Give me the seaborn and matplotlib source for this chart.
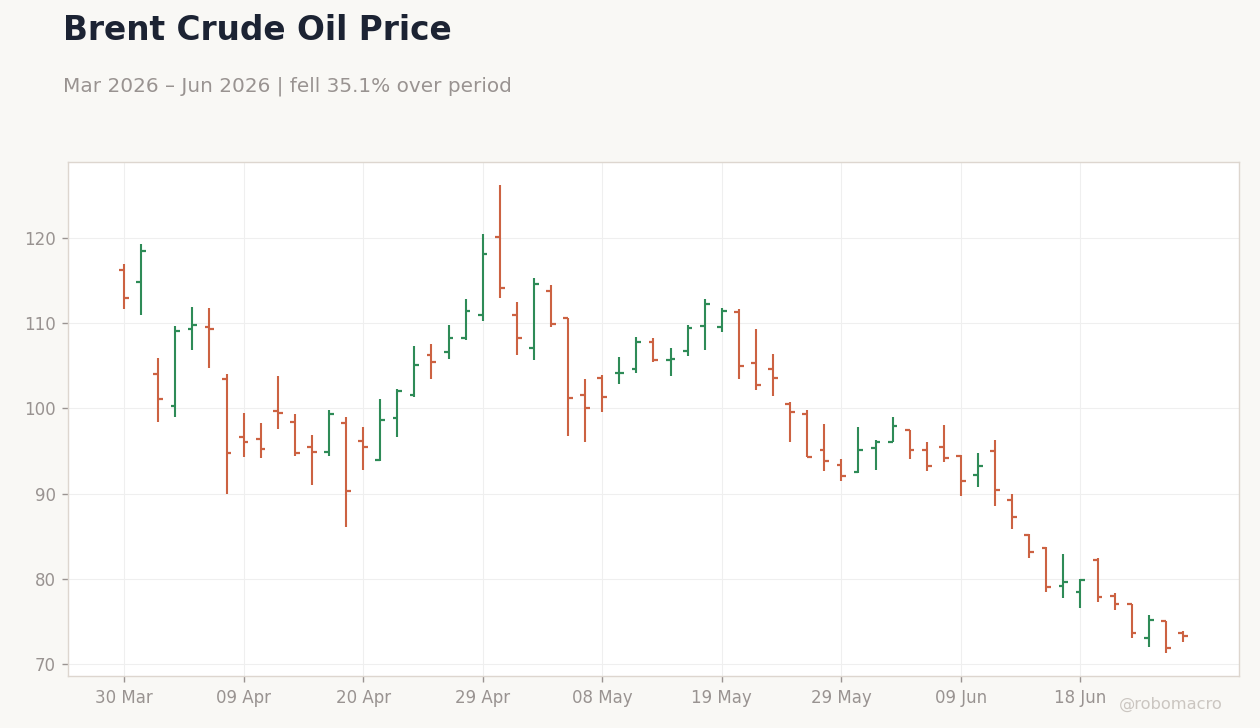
import matplotlib
matplotlib.use("Agg")
import matplotlib.pyplot as plt
import seaborn as sns
import numpy as np
import pandas as pd

# trading days (Good Friday and 25 May closed)
holidays = ["2026-04-03", "2026-05-25"]
dates = [d for d in pd.bdate_range("2026-03-30", "2026-06-26")
         if d.strftime("%Y-%m-%d") not in holidays]

open_ = [116.2, 114.8, 104.0, 100.3, 109.3, 109.6, 103.5, 96.6, 96.4, 99.7,
         98.4, 95.5, 94.9, 98.3, 96.2, 93.9, 98.9, 101.6, 106.3, 106.6,
         108.3, 111.0, 120.1, 111.0, 107.1, 113.8, 110.6, 101.6, 103.6, 104.1,
         104.6, 107.8, 105.7, 106.7, 109.7, 109.6, 111.3, 105.3, 104.6, 100.5,
         99.3, 95.1, 93.4, 92.5, 95.4, 96.1, 97.5, 95.1, 95.5, 94.4,
         92.2, 95.0, 89.3, 85.1, 83.6, 79.2, 78.4, 82.2, 78.0, 77.0,
         73.1, 75.0, 73.6]
high = [116.9, 119.3, 105.9, 109.7, 111.9, 111.8, 104.0, 99.5, 98.3, 103.8,
        99.3, 96.9, 99.8, 99.0, 97.8, 101.1, 102.3, 107.3, 107.5, 109.8,
        112.8, 120.4, 126.2, 112.5, 115.3, 114.5, 110.6, 103.5, 103.9, 106.0,
        108.4, 108.3, 107.1, 109.8, 112.8, 111.8, 111.6, 109.3, 106.4, 100.8,
        99.8, 98.2, 94.0, 97.8, 96.3, 99.0, 97.5, 96.0, 98.1, 94.5,
        94.8, 96.3, 89.9, 85.3, 83.7, 82.9, 80.0, 82.4, 78.3, 77.1,
        75.8, 75.1, 73.9]
low = [111.6, 111.0, 98.4, 99.0, 106.9, 104.7, 90.0, 94.3, 94.2, 97.6,
       94.4, 91.0, 94.4, 86.1, 92.8, 93.8, 96.6, 101.3, 103.5, 105.8,
       108.0, 110.3, 113.0, 106.3, 105.7, 109.6, 96.8, 96.1, 99.6, 102.9,
       104.2, 105.4, 103.8, 106.1, 106.9, 108.9, 103.4, 102.2, 101.4, 96.0,
       94.3, 92.6, 91.5, 92.4, 92.8, 96.0, 94.0, 92.7, 93.7, 89.7,
       90.8, 88.5, 85.8, 82.4, 78.5, 77.8, 76.6, 77.3, 76.4, 73.1,
       72.0, 71.3, 72.6]
close = [112.9, 118.4, 101.1, 109.1, 109.8, 109.3, 94.8, 96.0, 95.2, 99.4,
         94.8, 94.9, 99.3, 90.3, 95.5, 98.6, 102.0, 105.1, 105.4, 108.3,
         111.4, 118.1, 114.1, 108.2, 114.6, 109.9, 101.2, 100.0, 101.3, 104.2,
         107.8, 105.7, 105.8, 109.4, 112.2, 111.4, 105.0, 102.7, 103.6, 99.6,
         94.3, 93.8, 92.1, 95.1, 96.0, 97.9, 95.1, 93.2, 94.2, 91.5,
         93.2, 90.4, 87.3, 83.2, 79.0, 79.6, 79.9, 77.9, 77.1, 73.7,
         75.2, 71.9, 73.25]

df = pd.DataFrame({"date": dates, "open": open_, "high": high,
                   "low": low, "close": close})
df["pos"] = np.arange(len(df))
df["dir"] = np.where(df["close"] >= df["open"], "up", "down")

UP = "#2e8b57"
DOWN = "#cc6242"
BG = "#f9f8f5"

sns.set_theme(style="whitegrid", rc={
    "figure.facecolor": BG,
    "axes.facecolor": "white",
    "axes.edgecolor": "#ddd6cf",
    "grid.color": "#efefef",
    "grid.linewidth": 0.8,
    "xtick.color": "#999391",
    "ytick.color": "#999391",
    "xtick.bottom": True,
    "ytick.left": True,
    "xtick.major.size": 4,
    "ytick.major.size": 4,
})
plt.rcParams["font.family"] = ["DejaVu Sans"]

fig = plt.figure(figsize=(12.6, 7.28), dpi=100)
ax = fig.add_axes([0.054, 0.0714, 0.9293, 0.7061])

palette = {"up": UP, "down": DOWN}
for d, g in df.groupby("dir"):
    c = palette[d]
    ax.vlines(g["pos"], g["low"], g["high"], color=c, linewidth=1.5)
    ax.hlines(g["open"], g["pos"] - 0.28, g["pos"], color=c, linewidth=1.6)
    ax.hlines(g["close"], g["pos"], g["pos"] + 0.28, color=c, linewidth=1.6)

tick_pos = df["pos"].values[::7]
tick_lbl = [d.strftime("%d %b") for d in df["date"].iloc[::7]]
ax.set_xticks(tick_pos)
ax.set_xticklabels(tick_lbl)
ax.set_xlim(-3.28, 65.28)
ax.set_yticks([70, 80, 90, 100, 110, 120])
ax.set_ylim(68.6, 128.9)
ax.tick_params(axis="both", labelsize=12, colors="#999391", pad=5)
ax.tick_params(axis="both", color="#999391", width=1)
for s in ax.spines.values():
    s.set_color("#ddd6cf")
    s.set_linewidth(1)
ax.set_xlabel("")
ax.set_ylabel("")

fig.text(0.05, 0.945, "Brent Crude Oil Price", fontsize=23.6, fontweight="bold",
         color="#1c2333", va="baseline")
fig.text(0.05, 0.874, "Mar 2026 – Jun 2026 | fell 35.1% over period",
         fontsize=14.4, color="#999391", va="baseline")
fig.text(0.97, 0.032, "@robomacro", fontsize=11.7, color="#cbc6c1",
         ha="right", va="center")

fig.savefig("out.png", dpi=100, facecolor=BG)
